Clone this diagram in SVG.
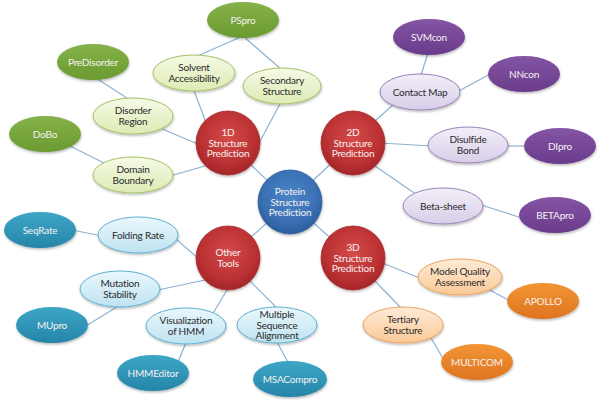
<svg xmlns="http://www.w3.org/2000/svg" width="600" height="403" viewBox="0 0 600 403">
<defs>
<filter id="sh" x="-20%" y="-20%" width="140%" height="150%"><feDropShadow dx="0.5" dy="1.5" stdDeviation="1.2" flood-color="#000" flood-opacity="0.28"/></filter>
<radialGradient id="gRed" cx="50%" cy="40%" r="60%"><stop offset="0" stop-color="#d44a49"/><stop offset="0.7" stop-color="#bb3133"/><stop offset="1" stop-color="#a2262a"/></radialGradient>
<radialGradient id="gBlue" cx="50%" cy="40%" r="60%"><stop offset="0" stop-color="#4a84c6"/><stop offset="0.7" stop-color="#3a70b4"/><stop offset="1" stop-color="#2c5d9c"/></radialGradient>
<linearGradient id="gGreenD" x1="0" y1="0" x2="0" y2="1"><stop offset="0" stop-color="#86b249"/><stop offset="1" stop-color="#6a9a31"/></linearGradient>
<linearGradient id="gGreenL" x1="0" y1="0" x2="0" y2="1"><stop offset="0" stop-color="#f6fae6"/><stop offset="1" stop-color="#dcebb4"/></linearGradient>
<linearGradient id="gPurD" x1="0" y1="0" x2="0" y2="1"><stop offset="0" stop-color="#8455a4"/><stop offset="1" stop-color="#6a3b8b"/></linearGradient>
<linearGradient id="gPurL" x1="0" y1="0" x2="0" y2="1"><stop offset="0" stop-color="#f3eff8"/><stop offset="1" stop-color="#d8cde8"/></linearGradient>
<linearGradient id="gOrD" x1="0" y1="0" x2="0" y2="1"><stop offset="0" stop-color="#f39535"/><stop offset="1" stop-color="#de7420"/></linearGradient>
<linearGradient id="gOrL" x1="0" y1="0" x2="0" y2="1"><stop offset="0" stop-color="#feebd7"/><stop offset="1" stop-color="#f9c996"/></linearGradient>
<linearGradient id="gTeD" x1="0" y1="0" x2="0" y2="1"><stop offset="0" stop-color="#3ea6c6"/><stop offset="1" stop-color="#2585a9"/></linearGradient>
<linearGradient id="gTeL" x1="0" y1="0" x2="0" y2="1"><stop offset="0" stop-color="#eaf7fc"/><stop offset="1" stop-color="#bfe3f1"/></linearGradient>
</defs>
<style>
text{font-family:Lato,"Liberation Sans",sans-serif;font-size:10px;letter-spacing:-0.2px;text-anchor:middle}
.dk{fill:#f6f0f0}
.lt{fill:#2a2a2a}
.red{fill:url(#gRed);stroke:#a8292c;stroke-width:0.8;filter:url(#sh)}
.blue{fill:url(#gBlue);stroke:#2f5f9c;stroke-width:0.8;filter:url(#sh)}
.gd{fill:url(#gGreenD);filter:url(#sh)}
.gl{fill:url(#gGreenL);stroke:#a3c266;stroke-width:1;filter:url(#sh)}
.pd{fill:url(#gPurD);filter:url(#sh)}
.pl{fill:url(#gPurL);stroke:#9784bb;stroke-width:1;filter:url(#sh)}
.od{fill:url(#gOrD);filter:url(#sh)}
.ol{fill:url(#gOrL);stroke:#eda35f;stroke-width:1;filter:url(#sh)}
.td{fill:url(#gTeD);filter:url(#sh)}
.tl{fill:url(#gTeL);stroke:#5eb1d3;stroke-width:1;filter:url(#sh)}
#edges line{stroke:#8db1d0;stroke-width:1.2}
</style>
<rect width="600" height="403" fill="#ffffff"/>
<g id="edges">
<line x1="290" y1="202" x2="228" y2="143"/>
<line x1="290" y1="202" x2="353" y2="143"/>
<line x1="290" y1="202" x2="353" y2="258"/>
<line x1="290" y1="202" x2="228" y2="258"/>
<line x1="243" y1="36" x2="193" y2="58"/>
<line x1="243" y1="36" x2="282" y2="70"/>
<line x1="193" y1="88" x2="207" y2="125"/>
<line x1="282" y1="100" x2="257" y2="147"/>
<line x1="93" y1="76" x2="133" y2="102"/>
<line x1="160" y1="128" x2="200" y2="145"/>
<line x1="70" y1="146" x2="108" y2="165"/>
<line x1="170" y1="176" x2="205" y2="166"/>
<line x1="395" y1="103" x2="374" y2="122"/>
<line x1="429" y1="50" x2="420" y2="78"/>
<line x1="492" y1="73" x2="457" y2="92"/>
<line x1="380" y1="143" x2="432" y2="146"/>
<line x1="505" y1="146" x2="528" y2="146"/>
<line x1="375" y1="166" x2="420" y2="197"/>
<line x1="478" y1="204" x2="522" y2="218"/>
<line x1="380" y1="262" x2="422" y2="279"/>
<line x1="486" y1="288" x2="512" y2="302"/>
<line x1="372" y1="278" x2="404" y2="311"/>
<line x1="430" y1="336" x2="445" y2="362"/>
<line x1="175" y1="238" x2="200" y2="260"/>
<line x1="72" y1="230" x2="102" y2="236"/>
<line x1="158" y1="290" x2="205" y2="280"/>
<line x1="86" y1="326" x2="120" y2="305"/>
<line x1="212" y1="315" x2="230" y2="285"/>
<line x1="187" y1="340" x2="178" y2="362"/>
<line x1="248" y1="279" x2="279" y2="310"/>
<line x1="276" y1="340" x2="290" y2="366"/>
</g>
<g id="n-center"><circle class="blue" cx="290" cy="202" r="32"/><text class="dk"><tspan x="290" y="195">Protein</tspan><tspan x="290" y="205.7">Structure</tspan><tspan x="290" y="216.4">Prediction</tspan></text></g>
<g id="n-1d"><circle class="red" cx="228" cy="143" r="32"/><text class="dk"><tspan x="228" y="136">1D</tspan><tspan x="228" y="146.7">Structure</tspan><tspan x="228" y="157.4">Prediction</tspan></text></g>
<g id="n-2d"><circle class="red" cx="353" cy="143" r="32"/><text class="dk"><tspan x="353" y="136">2D</tspan><tspan x="353" y="146.7">Structure</tspan><tspan x="353" y="157.4">Prediction</tspan></text></g>
<g id="n-3d"><circle class="red" cx="353" cy="258" r="32"/><text class="dk"><tspan x="353" y="251">3D</tspan><tspan x="353" y="261.7">Structure</tspan><tspan x="353" y="272.4">Prediction</tspan></text></g>
<g id="n-other"><circle class="red" cx="228" cy="258" r="32"/><text class="dk"><tspan x="228" y="256">Other</tspan><tspan x="228" y="266.7">Tools</tspan></text></g>
<g id="n-pspro"><ellipse class="gd" cx="243" cy="20" rx="36" ry="18"/><text class="dk" x="243" y="23.6">PSpro</text></g>
<g id="n-predisorder"><ellipse class="gd" cx="93" cy="62" rx="36" ry="18"/><text class="dk" x="93" y="65.6">PreDisorder</text></g>
<g id="n-dobo"><ellipse class="gd" cx="45" cy="134" rx="36" ry="18"/><text class="dk" x="45" y="137.6">DoBo</text></g>
<g id="n-solvent"><ellipse class="gl" cx="194" cy="73" rx="41" ry="18"/><text class="lt"><tspan x="194" y="71.2">Solvent</tspan><tspan x="194" y="81.9">Accessibility</tspan></text></g>
<g id="n-secondary"><ellipse class="gl" cx="282" cy="86" rx="39" ry="18"/><text class="lt"><tspan x="282" y="84.2">Secondary</tspan><tspan x="282" y="94.9">Structure</tspan></text></g>
<g id="n-disorder"><ellipse class="gl" cx="133" cy="116" rx="40" ry="18"/><text class="lt"><tspan x="133" y="114.2">Disorder</tspan><tspan x="133" y="124.9">Region</tspan></text></g>
<g id="n-domain"><ellipse class="gl" cx="133" cy="175" rx="40" ry="18"/><text class="lt"><tspan x="133" y="173.2">Domain</tspan><tspan x="133" y="183.9">Boundary</tspan></text></g>
<g id="n-svmcon"><ellipse class="pd" cx="429" cy="37" rx="36" ry="18"/><text class="dk" x="429" y="40.6">SVMcon</text></g>
<g id="n-nncon"><ellipse class="pd" cx="524" cy="74" rx="36" ry="18"/><text class="dk" x="524" y="77.6">NNcon</text></g>
<g id="n-dipro"><ellipse class="pd" cx="560" cy="146" rx="36" ry="18"/><text class="dk" x="560" y="149.6">DIpro</text></g>
<g id="n-betapro"><ellipse class="pd" cx="555" cy="215" rx="36" ry="18"/><text class="dk" x="555" y="218.6">BETApro</text></g>
<g id="n-contact"><ellipse class="pl" cx="420" cy="92" rx="40" ry="18"/><text class="lt" x="420" y="95.6">Contact Map</text></g>
<g id="n-disulfide"><ellipse class="pl" cx="468" cy="145" rx="40" ry="18"/><text class="lt"><tspan x="468" y="143.2">Disulfide</tspan><tspan x="468" y="153.9">Bond</tspan></text></g>
<g id="n-beta"><ellipse class="pl" cx="443" cy="206" rx="40" ry="18"/><text class="lt" x="443" y="209.6">Beta-sheet</text></g>
<g id="n-mqa"><ellipse class="ol" cx="460" cy="277" rx="42" ry="18"/><text class="lt"><tspan x="460" y="275.2">Model Quality</tspan><tspan x="460" y="285.9">Assessment</tspan></text></g>
<g id="n-tertiary"><ellipse class="ol" cx="403" cy="325" rx="40" ry="18"/><text class="lt"><tspan x="403" y="323.2">Tertiary</tspan><tspan x="403" y="333.9">Structure</tspan></text></g>
<g id="n-apollo"><ellipse class="od" cx="543" cy="301" rx="36" ry="18"/><text class="dk" x="543" y="304.6">APOLLO</text></g>
<g id="n-multicom"><ellipse class="od" cx="477" cy="362" rx="36" ry="18"/><text class="dk" x="477" y="365.6">MULTICOM</text></g>
<g id="n-folding"><ellipse class="tl" cx="138" cy="235" rx="40" ry="18"/><text class="lt" x="138" y="238.6">Folding Rate</text></g>
<g id="n-mutation"><ellipse class="tl" cx="120" cy="289" rx="40" ry="18"/><text class="lt"><tspan x="120" y="287.2">Mutation</tspan><tspan x="120" y="297.9">Stability</tspan></text></g>
<g id="n-vis"><ellipse class="tl" cx="186" cy="326" rx="40" ry="18"/><text class="lt"><tspan x="186" y="324.2">Visualization</tspan><tspan x="186" y="334.9">of HMM</tspan></text></g>
<g id="n-msa"><ellipse class="tl" cx="277" cy="325" rx="40" ry="18"/><text class="lt"><tspan x="277" y="317.9">Multiple</tspan><tspan x="277" y="328.6">Sequence</tspan><tspan x="277" y="339.3">Alignment</tspan></text></g>
<g id="n-seqrate"><ellipse class="td" cx="40" cy="230" rx="36" ry="18"/><text class="dk" x="40" y="233.6">SeqRate</text></g>
<g id="n-mupro"><ellipse class="td" cx="52" cy="325" rx="36" ry="18"/><text class="dk" x="52" y="328.6">MUpro</text></g>
<g id="n-hmmeditor"><ellipse class="td" cx="153" cy="373" rx="36" ry="18"/><text class="dk" x="153" y="376.6">HMMEditor</text></g>
<g id="n-msacompro"><ellipse class="td" cx="290" cy="379" rx="37" ry="18"/><text class="dk" x="290" y="382.6">MSACompro</text></g>
</svg>
